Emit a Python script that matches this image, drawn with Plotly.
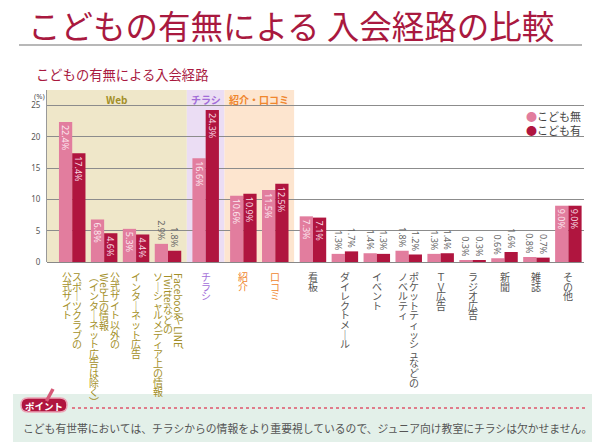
import plotly.graph_objects as go

# ---------------- data ----------------
categories = [
    "スポーツクラブの公式サイト", "公式サイト以外のWeb上の情報（インターネット広告は除く）",
    "インターネット広告", "FacebookやLINE、Twitterなどのソーシャルメディア上の情報",
    "チラシ", "紹介", "口コミ", "看板", "ダイレクトメール", "イベント",
    "ポケットティッシュなどのノベルティ", "ＴＶ広告", "ラジオ広告", "新聞", "雑誌", "その他",
]
label_columns = [
    ["スポーツクラブの", "公式サイト"],
    ["公式サイト以外の", "Web上の情報", "（インターネット広告は除く）"],
    ["インターネット広告"],
    ["FacebookやLINE、", "Twitterなどの", "ソーシャルメディア上の情報"],
    ["チラシ"],
    ["紹介"],
    ["口コミ"],
    ["看板"],
    ["ダイレクトメール"],
    ["イベント"],
    ["ポケットティッシュなどの", "ノベルティ"],
    ["ＴＶ広告"],
    ["ラジオ広告"],
    ["新聞"],
    ["雑誌"],
    ["その他"],
]
no_child = [22.4, 6.8, 5.3, 2.9, 16.6, 10.6, 11.5, 7.3, 1.3, 1.4, 1.8, 1.3, 0.3, 0.6, 0.8, 9.0]
with_child = [17.4, 4.6, 4.4, 1.8, 24.3, 10.9, 12.5, 7.1, 1.7, 1.3, 1.2, 1.4, 0.3, 1.6, 0.7, 9.0]
group_of = [0, 0, 0, 0, 1, 2, 2, 3, 3, 3, 3, 3, 3, 3, 3, 3]
group_names = ["Web", "チラシ", "紹介・口コミ"]
series_names = ["こども無", "こども有"]
y_ticks = [0, 5, 10, 15, 20, 25]

title_text = "こどもの有無による 入会経路の比較"
subtitle_text = "こどもの有無による入会経路"
point_label = "ポイント"
point_text = "こども有世帯においては、チラシからの情報をより重要視しているので、ジュニア向け教室にチラシは欠かせません。"

# ---------------- style ----------------
PINK = "#E27D9E"
CRIMSON = "#B0153F"
TITLE_COLOR = "#A9193F"
GROUP_BG = ["#EFE7C9", "#EBDDF4", "#FDE5CF"]
GROUP_FG = ["#A38F28", "#A26DD8", "#F0872E"]
LABEL_FG = GROUP_FG + ["#555555"]
FONT = "Noto Sans CJK JP"

W, H = 600, 448
L, R, T, B = 47, 16, 90, 186
PW, PH = W - L - R, H - T - B


def px(x):
    return (x - L) / PW


def py(y):
    return (H - B - y) / PH


GAP = 0.18
xpos = [i + GAP * g for i, g in enumerate(group_of)]
x_range = [-0.79, xpos[-1] + 0.49]

fig = go.Figure()

for vals, name, col, tcol in [(no_child, series_names[0], PINK, "#FCE6EE"),
                              (with_child, series_names[1], CRIMSON, "#F7D9E2")]:
    fig.add_trace(go.Bar(
        x=xpos, y=vals, name=name, marker=dict(color=col, line=dict(width=0)),
        text=[f"{v:.1f}%" for v in vals],
        textposition=["inside" if v >= 4 else "outside" for v in vals],
        textangle=90, insidetextanchor="end", constraintext="none",
        insidetextfont=dict(color=tcol, size=9, family="Noto Sans"),
        outsidetextfont=dict(color="#666666", size=9, family="Noto Sans"),
        cliponaxis=False, showlegend=False,
    ))

shapes = []
annotations = []


def ann(**kw):
    kw.setdefault("showarrow", False)
    kw.setdefault("xanchor", "center")
    kw.setdefault("yanchor", "middle")
    annotations.append(kw)


# group background bands
bounds = [x_range[0]]
for gi in range(1, 4):
    last = max(i for i, g in enumerate(group_of) if g == gi - 1)
    first = min(i for i, g in enumerate(group_of) if g == gi)
    bounds.append((xpos[last] + xpos[first]) / 2)
for gi in range(3):
    shapes.append(dict(type="rect", xref="x", yref="paper", x0=bounds[gi], x1=bounds[gi + 1],
                       y0=0, y1=1, fillcolor=GROUP_BG[gi], line=dict(width=0), layer="below"))
    ann(xref="x", yref="paper", x=(bounds[gi] + bounds[gi + 1]) / 2, y=py(99),
        text=f"<b>{group_names[gi]}</b>", font=dict(size=10, color=GROUP_FG[gi], family=FONT))

# vertical (tategaki) category labels: one text per upright run, rotated Latin runs
CH = 9.6            # vertical advance per character
GLYPH = 10          # glyph size
COL_STEP = 10.5
LABEL_TOP = 10      # ink top below the axis
VERT = {"ー": "｜", "（": "︵", "）": "︶", "、": "︑"}


def latin_len(s, fs=GLYPH):
    w = 0
    for c in s:
        if c in "iljI,.'":
            w += 0.25
        elif c in "tfr":
            w += 0.34
        elif c in "mwM":
            w += 0.78
        elif c == "W":
            w += 0.88
        elif c.isupper():
            w += 0.58
        else:
            w += 0.52
    return w * fs


def segments(col):
    segs = []
    for c in col:
        kind = "latin" if c.isascii() else "cjk"
        if segs and segs[-1][0] == kind:
            segs[-1][1] += c
        else:
            segs.append([kind, c])
    return segs


for i, cols in enumerate(label_columns):
    n = len(cols)
    color = LABEL_FG[group_of[i]]
    for j, col in enumerate(cols):
        xs = ((n - 1) / 2 - j) * COL_STEP
        cur = LABEL_TOP
        for kind, s in segments(col):
            if kind == "latin":
                ln = latin_len(s)
                ann(xref="x", yref="paper", x=xpos[i], y=0, xshift=xs, yshift=-cur, yanchor="top",
                    text=s, textangle=90, borderpad=0,
                    font=dict(size=GLYPH, color=color, family=FONT))
                cur += ln + 1
            else:
                txt = "<br>".join(f"<span style='font-size:{GLYPH}px'>{VERT.get(c, c)}</span>" for c in s)
                ann(xref="x", yref="paper", x=xpos[i], y=0, xshift=xs, yshift=-(cur - 4), yanchor="top",
                    text=txt, borderpad=0,
                    font=dict(size=CH / 1.3, color=color, family=FONT))
                cur += CH * len(s)

# legend (circle markers as in the reference)
for name, col, yy in [(series_names[0], PINK, 115.5), (series_names[1], CRIMSON, 130)]:
    ann(xref="paper", yref="paper", x=px(583), y=py(yy), xanchor="right",
        text=f"<span style='color:{col}'>●</span>{name}", font=dict(size=11, color="#444444", family=FONT))

# (%) unit
ann(xref="paper", yref="paper", x=px(39), y=py(96), text="(%)",
    font=dict(size=7.5, color="#555555", family="Noto Sans"))

# title, rule, subtitle
ann(xref="paper", yref="paper", x=px(26), y=py(24), xanchor="left",
    text=title_text, font=dict(size=32.5, color=TITLE_COLOR, family=FONT))
shapes.append(dict(type="line", xref="paper", yref="paper", x0=px(19), x1=px(582), y0=py(45), y1=py(45),
                   line=dict(color="#A0A0A0", width=1.5)))
ann(xref="paper", yref="paper", x=px(34), y=py(74), xanchor="left",
    text=subtitle_text, font=dict(size=13.3, color=TITLE_COLOR, family=FONT))

# bottom "point" box
shapes.append(dict(type="rect", xref="paper", yref="paper", x0=px(13), x1=px(592), y0=py(394), y1=py(442),
                   fillcolor="#E3F0E9", line=dict(width=0), layer="below"))
shapes.append(dict(type="line", xref="paper", yref="paper", x0=px(72), x1=px(588), y0=py(408), y1=py(408),
                   line=dict(color="#E0566B", width=1.5, dash="dot")))
x0b, x1b, y0b, y1b, rr = 21, 67, 398, 412, 7
pts = [("M", x0b + rr, y0b), ("L", x1b - rr, y0b), ("Q", x1b, y0b, x1b, y0b + rr), ("Q", x1b, y1b, x1b - rr, y1b),
       ("L", x0b + rr, y1b), ("Q", x0b, y1b, x0b, y1b - rr), ("Q", x0b, y0b, x0b + rr, y0b)]
path = ""
for p in pts:
    if p[0] == "Q":
        path += f"Q{px(p[1]):.5f},{py(p[2]):.5f} {px(p[3]):.5f},{py(p[4]):.5f} "
    else:
        path += f"{p[0]}{px(p[1]):.5f},{py(p[2]):.5f} "
path += "Z"
shapes.append(dict(type="path", xref="paper", yref="paper", path=path, fillcolor=CRIMSON,
                   line=dict(color="#EBA3B5", width=1.5)))
shapes.append(dict(type="line", xref="paper", yref="paper", x0=px(46.5), x1=px(53), y0=py(401), y1=py(389),
                   line=dict(color="#D65A78", width=3.5)))
ann(xref="paper", yref="paper", x=px(44), y=py(405.5), text=f"<b>{point_label}</b>",
    font=dict(size=9.5, color="white", family=FONT))
ann(xref="paper", yref="paper", x=px(21), y=py(428), xanchor="left",
    text=point_text, font=dict(size=10.8, color="#555555", family=FONT))

fig.update_layout(
    width=W, height=H, margin=dict(l=L, r=R, t=T, b=B, autoexpand=False),
    paper_bgcolor="white", plot_bgcolor="white",
    barmode="group", bargap=0.17, bargroupgap=0,
    font=dict(family=FONT, color="#555555"),
    showlegend=False, shapes=shapes, annotations=annotations,
    xaxis=dict(range=x_range, showticklabels=False, showgrid=False, zeroline=False, showline=False,
               fixedrange=True),
    yaxis=dict(range=[0, 27.5], tickvals=y_ticks, showgrid=True, gridcolor="#8C8C8C", gridwidth=1,
               zeroline=True, zerolinecolor="#888888", zerolinewidth=1, showline=True, linecolor="#999999",
               linewidth=1, tickfont=dict(size=8, color="#555555", family="Noto Sans"), ticks="",
               ticklabelstandoff=4, fixedrange=True),
)

fig.write_html("out.html", config={"displayModeBar": False},
               post_script="document.body.style.margin='0px';")
